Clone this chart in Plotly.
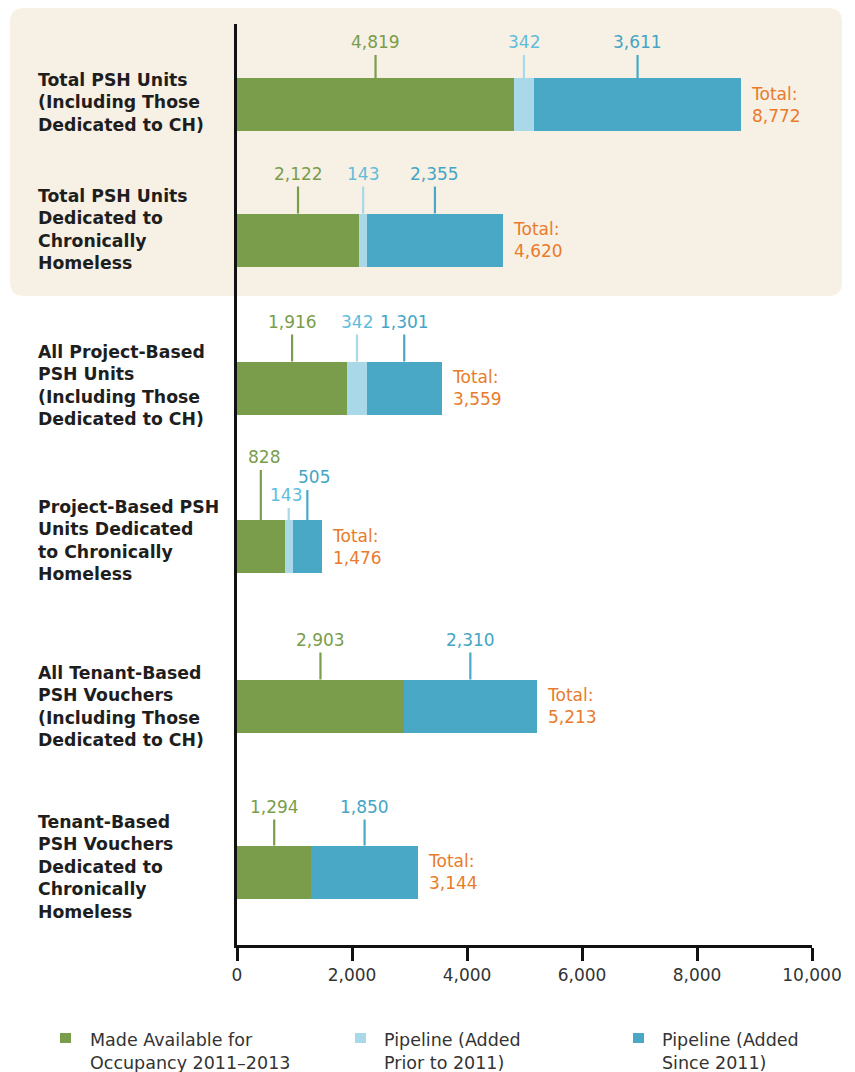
import plotly.graph_objects as go

# ---------------- data ----------------
categories = [
    "Total PSH Units<br>(Including Those<br>Dedicated to CH)",
    "Total PSH Units<br>Dedicated to<br>Chronically<br>Homeless",
    "All Project-Based<br>PSH Units<br>(Including Those<br>Dedicated to CH)",
    "Project-Based PSH<br>Units Dedicated<br>to Chronically<br>Homeless",
    "All Tenant-Based<br>PSH Vouchers<br>(Including Those<br>Dedicated to CH)",
    "Tenant-Based<br>PSH Vouchers<br>Dedicated to<br>Chronically<br>Homeless",
]
made_available = [4819, 2122, 1916, 828, 2903, 1294]
pipeline_prior = [342, 143, 342, 143, 0, 0]
pipeline_since = [3611, 2355, 1301, 505, 2310, 1850]
totals = [8772, 4620, 3559, 1476, 5213, 3144]
series_names = [
    "Made Available for<br>Occupancy 2011–2013",
    "Pipeline (Added<br>Prior to 2011)",
    "Pipeline (Added<br>Since 2011)",
]
x_ticks = [0, 2000, 4000, 6000, 8000, 10000]

# ---------------- layout constants ----------------
OFF = 8                       # page body margin
W, H = 855 - OFF, 1072 - OFF
AX_L, AX_R, AX_T, AX_B = 237, 812, 24, 945   # plot area in page pixels
M_L, M_R, M_T, M_B = AX_L - OFF, W - (AX_R - OFF), AX_T - OFF, H - (AX_B - OFF)
PLOT_W = AX_R - AX_L
PLOT_H = AX_B - AX_T
bar_centers = [104.5, 240, 388, 546.5, 706, 872]   # slot positions on the px-like y axis
BAR_H = 53
bar_colors = ["#7A9D4B", "#A9D8E8", "#48A8C5"]
label_colors = ["#7A9D4B", "#62BCDB", "#45A5C4"]
ORANGE = "#E97B2C"
FONT = "DejaVu Sans"
leader = [[23, 23, 23], [27, 27, 27], [27, 27, 27], [50, 12, 30], [27, 27, 27], [26, 26, 26]]
label_xshift = [[0, 0, 0], [0, 0, 0], [0, 0, 0], [3, -3, 7], [0, 0, 0], [0, 0, 0]]
cat_yshift = [2, 11, 2.5, 6.5, 0, 5.5]

series = [made_available, pipeline_prior, pipeline_since]


def px2paper_x(px):
    return (px - AX_L) / PLOT_W


def px2paper_y(py):
    return (AX_B - py) / PLOT_H


fig = go.Figure()
for name, vals, col in zip(series_names, series, bar_colors):
    fig.add_trace(go.Bar(
        x=vals, y=bar_centers, orientation="h", width=BAR_H,
        marker=dict(color=col, line=dict(width=0)), name=name,
        hoverinfo="skip", showlegend=False,
    ))

shapes = []
annotations = []

# background panel (rounded) behind the first two categories
x0, x1 = px2paper_x(10), px2paper_x(842)
yt, yb = px2paper_y(8), px2paper_y(296)
rx, ry = 14 / PLOT_W, 14 / PLOT_H
path = (f"M {x0+rx},{yt} L {x1-rx},{yt} Q {x1},{yt} {x1},{yt-ry} "
        f"L {x1},{yb+ry} Q {x1},{yb} {x1-rx},{yb} L {x0+rx},{yb} "
        f"Q {x0},{yb} {x0},{yb+ry} L {x0},{yt-ry} Q {x0},{yt} {x0+rx},{yt} Z")
shapes.append(dict(type="path", xref="paper", yref="paper", path=path,
                   fillcolor="#F7F0E5", line=dict(width=0), layer="below"))

# value labels with leader lines, totals, category labels
for i, yc in enumerate(bar_centers):
    start = 0
    top = yc - BAR_H / 2
    for s, vals in enumerate(series):
        v = vals[i]
        if v > 0:
            mid = start + v / 2
            L = leader[i][s]
            shapes.append(dict(type="line", xref="x", yref="y", x0=mid, x1=mid,
                               y0=top, y1=top - L,
                               line=dict(color=bar_colors[s], width=2.2)))
            annotations.append(dict(x=mid, y=top - L, xref="x", yref="y",
                                    text=f"{v:,}", showarrow=False,
                                    xanchor="center", yanchor="bottom", yshift=1,
                                    xshift=label_xshift[i][s],
                                    font=dict(family=FONT, size=17, color=label_colors[s])))
        start += v
    annotations.append(dict(x=totals[i], y=yc, xref="x", yref="y",
                            text=f"Total:<br>{totals[i]:,}", showarrow=False,
                            xanchor="left", yanchor="middle", align="left", xshift=8,
                            font=dict(family=FONT, size=17, color=ORANGE)))
    annotations.append(dict(x=px2paper_x(36), y=yc, xref="paper", yref="y",
                            text=categories[i], showarrow=False,
                            xanchor="left", yanchor="middle", align="left",
                            yshift=cat_yshift[i],
                            font=dict(family=FONT, size=17.3, color="#1E1E1E", weight="bold")))

# legend (manual, to match the original placement)
leg_sq_x = [60, 355, 633]
leg_txt_x = [88, 382, 660]
for name, col, sx, tx in zip(series_names, bar_colors, leg_sq_x, leg_txt_x):
    shapes.append(dict(type="rect", xref="paper", yref="paper",
                       x0=px2paper_x(sx), x1=px2paper_x(sx + 11),
                       y0=px2paper_y(1043), y1=px2paper_y(1033),
                       fillcolor=col, line=dict(width=0)))
    annotations.append(dict(x=px2paper_x(tx), y=px2paper_y(1051), xref="paper", yref="paper",
                            text=name, showarrow=False, xanchor="left", yanchor="middle",
                            align="left",
                            font=dict(family=FONT, size=17.5, color="#333333")))

fig.update_layout(
    width=W, height=H,
    margin=dict(l=M_L, r=M_R, t=M_T, b=M_B),
    barmode="stack",
    paper_bgcolor="white", plot_bgcolor="rgba(0,0,0,0)",
    shapes=shapes, annotations=annotations,
    showlegend=False,
    xaxis=dict(range=[0, 10000], tickvals=x_ticks,
               ticktext=[f"{t:,}" for t in x_ticks],
               showgrid=False, zeroline=False,
               showline=True, linecolor="#111111", linewidth=2.5,
               ticks="outside", ticklen=13, tickwidth=2.5, tickcolor="#111111",
               tickfont=dict(family=FONT, size=17, color="#333333")),
    yaxis=dict(range=[AX_B, AX_T], showgrid=False, zeroline=False,
               showline=True, linecolor="#111111", linewidth=2.5,
               showticklabels=False, ticks=""),
)

fig.write_html("out.html")
